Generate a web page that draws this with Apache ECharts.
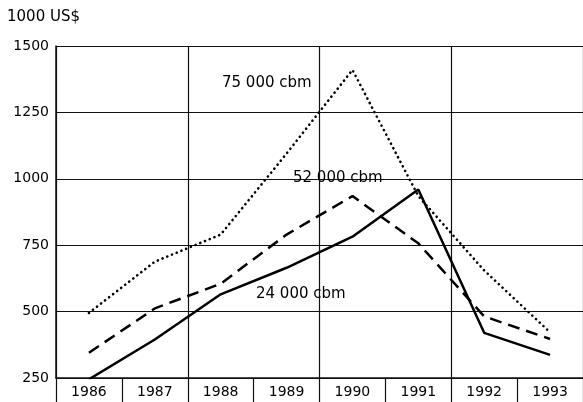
<!DOCTYPE html>
<html>
<head>
<meta charset="utf-8">
<script src="https://cdn.jsdelivr.net/npm/echarts@6/dist/echarts.min.js"></script>
<style>
html,body{margin:0;padding:0;background:#fff;}
#c{width:583px;height:402px;}
</style>
</head>
<body>
<div id="c"></div>
<script>
var years = ['1986','1987','1988','1989','1990','1991','1992','1993'];
var cbm24000 = [245, 395, 565, 665, 782, 960, 420, 337];
var cbm52000 = [345, 512, 605, 790, 935, 757, 482, 397];
var cbm75000 = [495, 688, 790, 1095, 1410, 935, 655, 422];
var yTicks = [250, 500, 750, 1000, 1250, 1500];
var unitLabel = '1000 US$';
var seriesNames = ['24 000 cbm', '52 000 cbm', '75 000 cbm'];

var FONT = 'DejaVu Sans';
var chart = echarts.init(document.getElementById('c'), null, {renderer: 'canvas'});
chart.setOption({
  animation: false,
  backgroundColor: '#fff',
  grid: {left: 56, right: 0, top: 46, bottom: 24, containLabel: false},
  xAxis: {
    type: 'category',
    data: years,
    boundaryGap: true,
    axisLine: {show: true, lineStyle: {color: '#111', width: 1.5}},
    axisTick: {show: true, inside: false, length: 24, interval: 0, lineStyle: {color: '#111', width: 1.2}},
    axisLabel: {color: '#000', fontFamily: FONT, fontSize: 14, margin: 7, interval: 0},
    splitLine: {show: true, interval: function (i) { return i % 2 === 0; }, lineStyle: {color: '#111', width: 1.2}}
  },
  yAxis: {
    type: 'value',
    min: yTicks[0],
    max: yTicks[yTicks.length - 1],
    interval: 250,
    axisLine: {show: true, lineStyle: {color: '#111', width: 1.5}},
    axisTick: {show: false},
    axisLabel: {color: '#000', fontFamily: FONT, fontSize: 14, margin: 7, formatter: function (v) { return String(v); }},
    splitLine: {show: true, lineStyle: {color: '#111', width: 1.2}}
  },
  graphic: [
    {type: 'text', left: 7, top: 10, style: {text: unitLabel, font: '15px "DejaVu Sans"', fill: '#000'}},
    {type: 'text', left: 222, top: 76, style: {text: seriesNames[2], font: '15px "DejaVu Sans"', fill: '#000'}},
    {type: 'text', left: 289, top: 171, style: {text: seriesNames[1], font: '15px "DejaVu Sans"', fill: '#000', backgroundColor: '#fff', padding: [0, 4, 0, 4]}},
    {type: 'text', left: 256, top: 287, style: {text: seriesNames[0], font: '15px "DejaVu Sans"', fill: '#000'}}
  ],
  series: [
    {name: seriesNames[0], type: 'line', data: cbm24000, symbol: 'none', z: 5,
     lineStyle: {color: '#000', width: 2.5, type: 'solid'}},
    {name: seriesNames[1], type: 'line', data: cbm52000, symbol: 'none', z: 4,
     lineStyle: {color: '#000', width: 2.5, type: [12, 7]}},
    {name: seriesNames[2], type: 'line', data: cbm75000, symbol: 'none', z: 3,
     lineStyle: {color: '#000', width: 2.6, type: [0.1, 5], cap: 'round'}}
  ]
});
</script>
</body>
</html>
